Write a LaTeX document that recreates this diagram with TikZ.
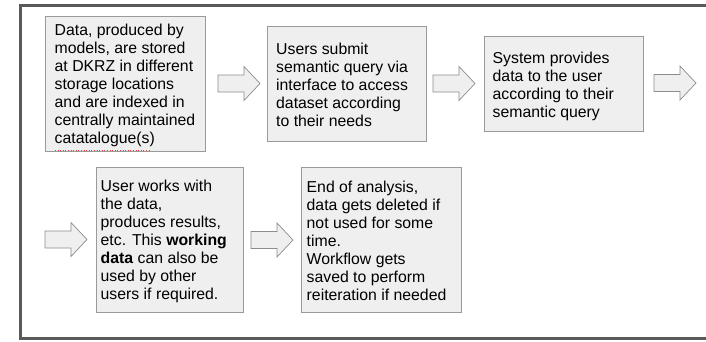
\documentclass[tikz,border=0pt]{standalone}
\usepackage{fontspec}
\setmainfont{Liberation Sans}
\definecolor{boxfill}{HTML}{EFEFEF}
\definecolor{boxline}{HTML}{9A9A9A}
\definecolor{arrowline}{HTML}{8C8C8C}
\definecolor{framecol}{HTML}{5A5A5A}
\newcommand\blockarr[1]{\draw[blockarrow] ([shift={(0,-8.5)}]#1) -- ++(26,0) -- ++(0,-8.5) -- ++(16,17) -- ++(-16,17) -- ++(0,-8.5) -- ++(-26,0) -- cycle;}
\begin{document}
\begin{tikzpicture}[x=1pt,y=-1pt,
  stepbox/.style={draw=boxline, fill=boxfill, line width=0.8pt, anchor=north west, inner sep=0pt},
  steptext/.style={anchor=north west, align=left, inner sep=0pt, font=\fontsize{15.8}{18}\selectfont, text=black},
  blockarrow/.style={draw=arrowline, fill=boxfill, line width=0.7pt, line join=miter}]
\useasboundingbox (0,0) rectangle (706,341);
\clip (0,0) rectangle (706,341);
% frame
\coordinate (f1) at (712,5.5);
\coordinate (f2) at (20.5,5.5);
\coordinate (f3) at (20.5,338.5);
\coordinate (f4) at (712,338.5);
\draw[framecol, line width=3pt] (f1) -- (f2) -- (f3) -- (f4);
% boxes
\node[stepbox, minimum width=160pt, minimum height=135pt] (b1) at (45,16) {};
\node[stepbox, minimum width=159pt, minimum height=115pt] (b2) at (267,26) {};
\node[stepbox, minimum width=159pt, minimum height=95pt] (b3) at (484,36) {};
\node[stepbox, minimum width=147pt, minimum height=145pt] (b4) at (96,167) {};
\node[stepbox, minimum width=160pt, minimum height=145pt] (b5) at (301,167) {};
% texts
\node[steptext] (t1) at (54.5,24) {Data, produced by\\models, are stored\\at DKRZ in different\\storage locations\\and are indexed in\\centrally maintained\\catatalogue(s)};
\node[steptext] (t2) at (276,42.5) {Users submit\\semantic query via\\interface to access\\dataset according\\to their needs};
\node[steptext] (t3) at (492.5,52) {System provides\\data to the user\\according to their\\semantic query};
\node[steptext] (t4) at (100.5,180) {User works with\\the data,\\produces results,\\etc. This \textbf{working}\\\textbf{data} can also be\\used by other\\users if required.};
\node[steptext] (t5) at (306.5,180.5) {End of analysis,\\data gets deleted if\\not used for some\\time.\\Workflow gets\\saved to perform\\reiteration if needed};
% spelling mark
\coordinate (s1) at (55,150.5);
\coordinate (s2) at (150,150.5);
\draw[red!80, line width=0.6pt, dotted] (s1) -- (s2);
% block arrows
\coordinate (a1) at (218,83.5);
\coordinate (a2) at (433,83.5);
\coordinate (a3) at (654,83);
\coordinate (a4) at (45,239.5);
\coordinate (a5) at (251,240);
\blockarr{a1}
\blockarr{a2}
\blockarr{a3}
\blockarr{a4}
\blockarr{a5}
\end{tikzpicture}
\end{document}
